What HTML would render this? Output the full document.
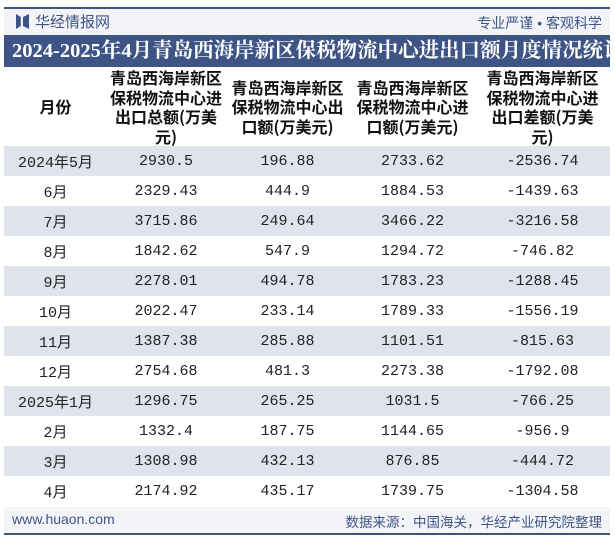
<!DOCTYPE html>
<html><head><meta charset="utf-8"><style>
body{margin:0;width:615px;height:540px;background:#fff;position:relative;overflow:hidden;font-family:"Liberation Sans","Noto Sans CJK SC",sans-serif}
.abs{position:absolute}
#top{left:4px;top:7px;width:606px;height:27px;background:#f3f4f8;border-top:2px solid #3e5485}
#title{left:4px;top:35px;width:606px;height:32px;background:#3e5485;color:#fff;font:bold 20.5px "Liberation Serif","Noto Serif CJK SC",serif;line-height:32px;white-space:nowrap;overflow:hidden;padding-left:8px;box-sizing:border-box}
table{position:absolute;left:4px;top:68px;width:606px;border-collapse:collapse;table-layout:fixed}
th{height:78px;padding:0;text-align:center;vertical-align:middle}
th div{height:78px;overflow:hidden;display:flex;align-items:center;justify-content:center;font:bold 16px "Noto Sans CJK SC",sans-serif;line-height:19.5px;color:#111;white-space:nowrap}
td{height:30px;padding:0;text-align:center;font:15px "Liberation Mono","Noto Sans CJK SC",monospace;color:#222;overflow:hidden}
tr.g td{background:#dfe3ec}
#foot{left:4px;top:507px;width:606px;height:26px;background:#f3f4f8;border-bottom:2px solid #3e5485}
</style></head><body>
<div id="top" class="abs">
 <div class="abs" style="left:12px;top:5px;width:12px;height:15px;background:#3e5485;clip-path:polygon(0 0,40% 20%,40% 80%,0 100%)"></div>
 <div class="abs" style="left:19px;top:5px;width:6px;height:15px;background:#3e5485;clip-path:polygon(100% 0,0 20%,0 80%,100% 100%)"></div>
 <div class="abs" style="left:31px;top:2px;font-size:15px;color:#3e5485">华经情报网</div>
 <div class="abs" style="right:8px;top:4px;font-size:14px;color:#3e5485">专业严谨 • 客观科学</div>
</div>
<div id="title" class="abs">2024-2025年4月青岛西海岸新区保税物流中心进出口额月度情况统计</div>
<table>
<colgroup><col style="width:103px"><col style="width:118px"><col style="width:125px"><col style="width:125px"><col style="width:135px"></colgroup>
<thead><tr>
<th><div>月份</div></th>
<th><div>青岛西海岸新区<br>保税物流中心进<br>出口总额(万美<br>元)</div></th>
<th><div>青岛西海岸新区<br>保税物流中心出<br>口额(万美元)</div></th>
<th><div>青岛西海岸新区<br>保税物流中心进<br>口额(万美元)</div></th>
<th><div>青岛西海岸新区<br>保税物流中心进<br>出口差额(万美<br>元)</div></th>
</tr></thead>
<tbody id="tb"></tbody>
</table>
<div id="foot" class="abs">
 <div class="abs" style="left:8px;top:4px;font-size:14px;color:#3e5485">www.huaon.com</div>
 <div class="abs" style="right:8px;top:4px;font-size:13.5px;color:#3e5485">数据来源：中国海关，华经产业研究院整理</div>
</div>
<script>
const months=["2024年5月","6月","7月","8月","9月","10月","11月","12月","2025年1月","2月","3月","4月"];
const totals=["2930.5","2329.43","3715.86","1842.62","2278.01","2022.47","1387.38","2754.68","1296.75","1332.4","1308.98","2174.92"];
const exportsV=["196.88","444.9","249.64","547.9","494.78","233.14","285.88","481.3","265.25","187.75","432.13","435.17"];
const importsV=["2733.62","1884.53","3466.22","1294.72","1783.23","1789.33","1101.51","2273.38","1031.5","1144.65","876.85","1739.75"];
const balances=["-2536.74","-1439.63","-3216.58","-746.82","-1288.45","-1556.19","-815.63","-1792.08","-766.25","-956.9","-444.72","-1304.58"];
const tb=document.getElementById('tb');
const names=["month","total","export","import","balance"];
months.forEach((m,i)=>{
 const tr=document.createElement('tr');
 
 
 if(i%2===0)tr.className='g';
 [m,totals[i],exportsV[i],importsV[i],balances[i]].forEach((v,j)=>{
  const td=document.createElement('td');
  
  
  td.textContent=v;
  if(j===0)td.style.fontFamily='"Liberation Mono","Noto Sans CJK SC",monospace';
  tr.appendChild(td);
 });
 tb.appendChild(tr);
});
</script>
</body></html>
